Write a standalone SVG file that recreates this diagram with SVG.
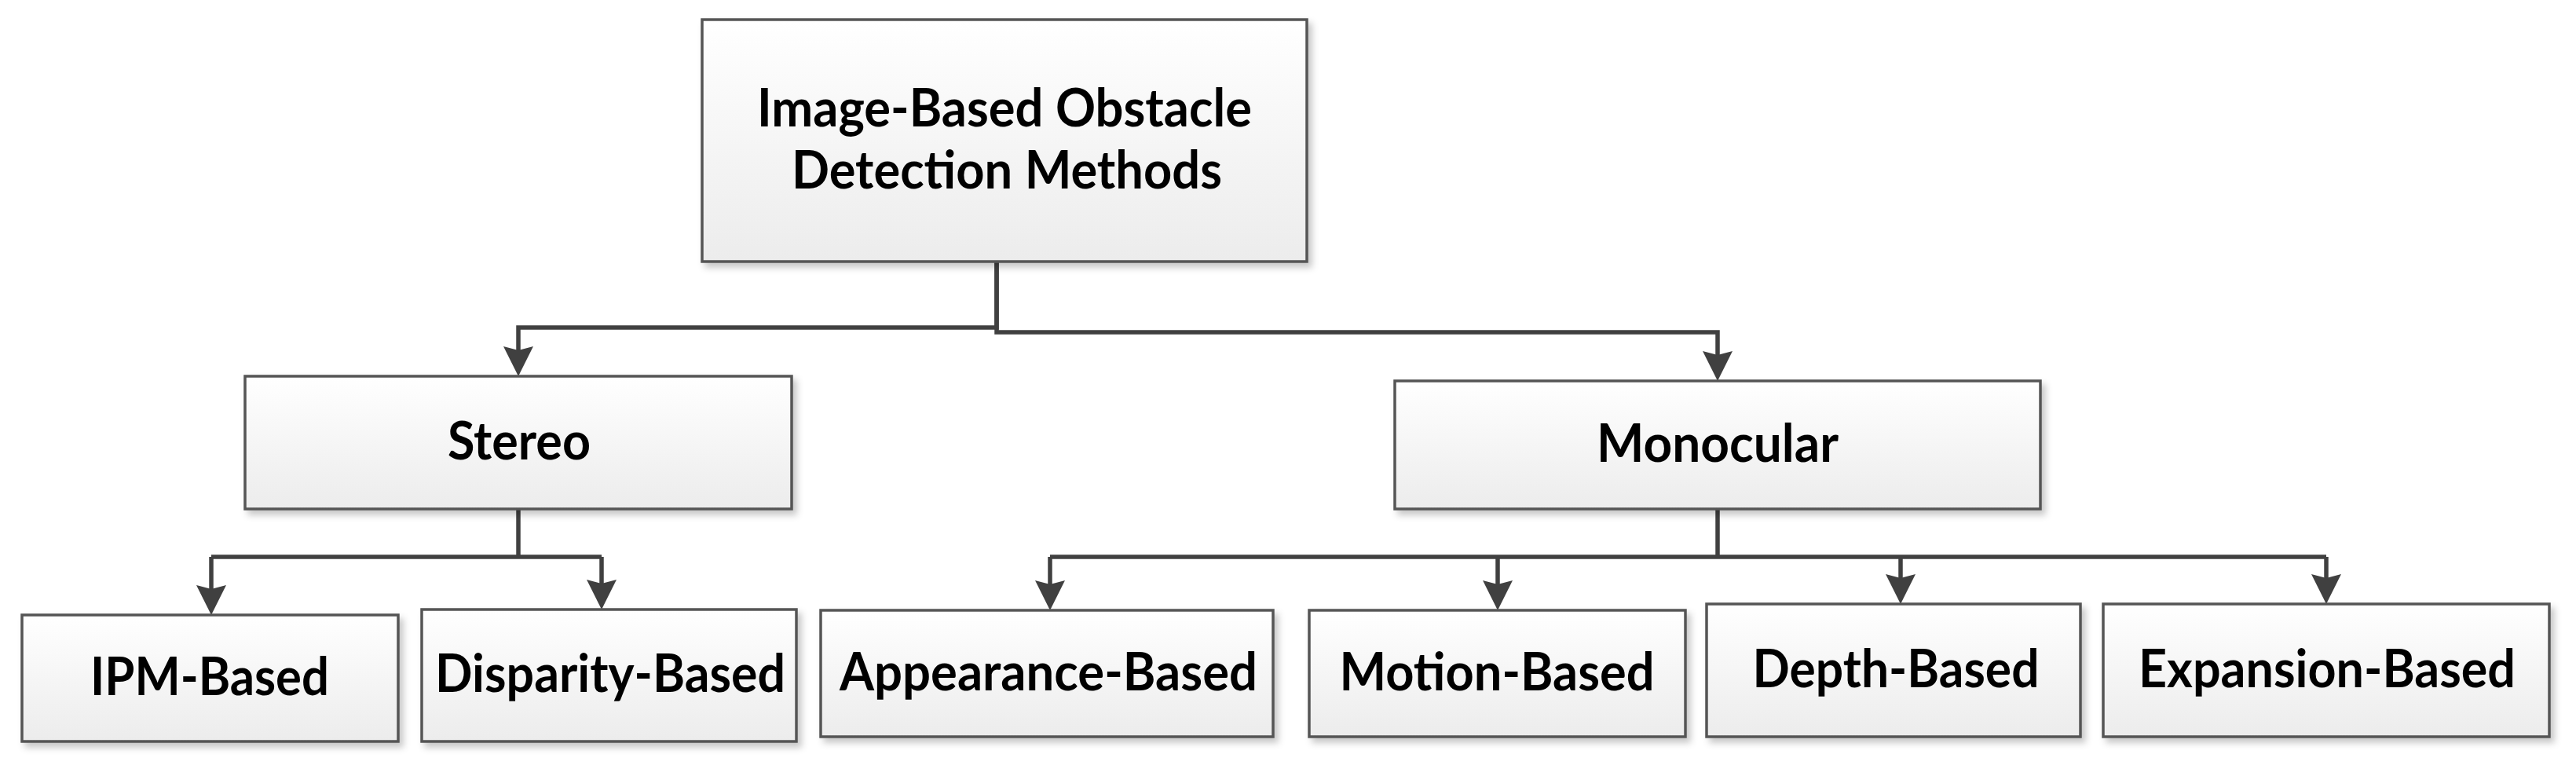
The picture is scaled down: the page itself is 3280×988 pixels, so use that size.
<svg xmlns="http://www.w3.org/2000/svg" width="3280" height="988" viewBox="0 0 3280 988">
  <defs>
    <linearGradient id="boxFill" x1="0" y1="0" x2="0" y2="1">
      <stop offset="0" stop-color="#ffffff"/>
      <stop offset="1" stop-color="#ececec"/>
    </linearGradient>
    <filter id="shadow" x="-5%" y="-5%" width="115%" height="125%">
      <feDropShadow dx="5" dy="6" stdDeviation="4" flood-color="#000000" flood-opacity="0.22"/>
    </filter>
    <marker id="arrow" markerUnits="userSpaceOnUse" viewBox="0 0 38 38" markerWidth="38" markerHeight="38" refX="28" refY="19" orient="auto">
      <path d="M0,0 L38,19 L0,38 L5,19 Z" fill="#404040"/>
    </marker>
  </defs>
  <style>
    .box { fill: url(#boxFill); stroke: #555555; stroke-width: 3.5; filter: url(#shadow); }
    .label { font-family: Lato, "Open Sans", "Liberation Sans", sans-serif; font-weight: bold; font-size: 67px; fill: #000000; text-anchor: middle; }
    .conn { fill: none; stroke: #404040; stroke-width: 5.5; stroke-linejoin: miter; }
    .arr { marker-end: url(#arrow); }
  </style>
  <rect width="3280" height="988" fill="#ffffff"/>

  <g id="connectors">
    <path class="conn arr" d="M1269,333 L1269,417 L660,417 L660,469"/>
    <path class="conn arr" d="M1269,333 L1269,423 L2187,423 L2187,475"/>
    <path class="conn" d="M660,648 L660,709"/>
    <path class="conn" d="M269,709 L766,709"/>
    <path class="conn arr" d="M269,709 L269,773"/>
    <path class="conn arr" d="M766,709 L766,766"/>
    <path class="conn" d="M2187,648 L2187,709"/>
    <path class="conn" d="M1337,709 L2962,709"/>
    <path class="conn arr" d="M1337,709 L1337,767"/>
    <path class="conn arr" d="M1907,709 L1907,767"/>
    <path class="conn arr" d="M2420,709 L2420,759"/>
    <path class="conn arr" d="M2962,709 L2962,759"/>
  </g>

  <g id="node-root">
    <rect class="box" x="894" y="25" width="770" height="308"/>
    <text class="label" x="1279" y="161" textLength="630" lengthAdjust="spacingAndGlyphs">Image-Based Obstacle</text>
    <text class="label" x="1282" y="240" textLength="548" lengthAdjust="spacingAndGlyphs">Detection Methods</text>
  </g>
  <g id="node-stereo">
    <rect class="box" x="312" y="479" width="696" height="169"/>
    <text class="label" x="661" y="585" textLength="182" lengthAdjust="spacingAndGlyphs">Stereo</text>
  </g>
  <g id="node-monocular">
    <rect class="box" x="1776" y="485" width="822" height="163"/>
    <text class="label" x="2187" y="588" textLength="308" lengthAdjust="spacingAndGlyphs">Monocular</text>
  </g>
  <g id="node-ipm">
    <rect class="box" x="28" y="783" width="479" height="161"/>
    <text class="label" x="267" y="885" textLength="304" lengthAdjust="spacingAndGlyphs">IPM-Based</text>
  </g>
  <g id="node-disparity">
    <rect class="box" x="537" y="776" width="477" height="168"/>
    <text class="label" x="777" y="881" textLength="446" lengthAdjust="spacingAndGlyphs">Disparity-Based</text>
  </g>
  <g id="node-appearance">
    <rect class="box" x="1045" y="777" width="576" height="161"/>
    <text class="label" x="1335" y="879" textLength="532" lengthAdjust="spacingAndGlyphs">Appearance-Based</text>
  </g>
  <g id="node-motion">
    <rect class="box" x="1667" y="777" width="479" height="161"/>
    <text class="label" x="1906" y="879" textLength="401" lengthAdjust="spacingAndGlyphs">Motion-Based</text>
  </g>
  <g id="node-depth">
    <rect class="box" x="2173" y="769" width="476" height="169"/>
    <text class="label" x="2414" y="875" textLength="365" lengthAdjust="spacingAndGlyphs">Depth-Based</text>
  </g>
  <g id="node-expansion">
    <rect class="box" x="2678" y="769" width="568" height="169"/>
    <text class="label" x="2963" y="875" textLength="480" lengthAdjust="spacingAndGlyphs">Expansion-Based</text>
  </g>
</svg>
